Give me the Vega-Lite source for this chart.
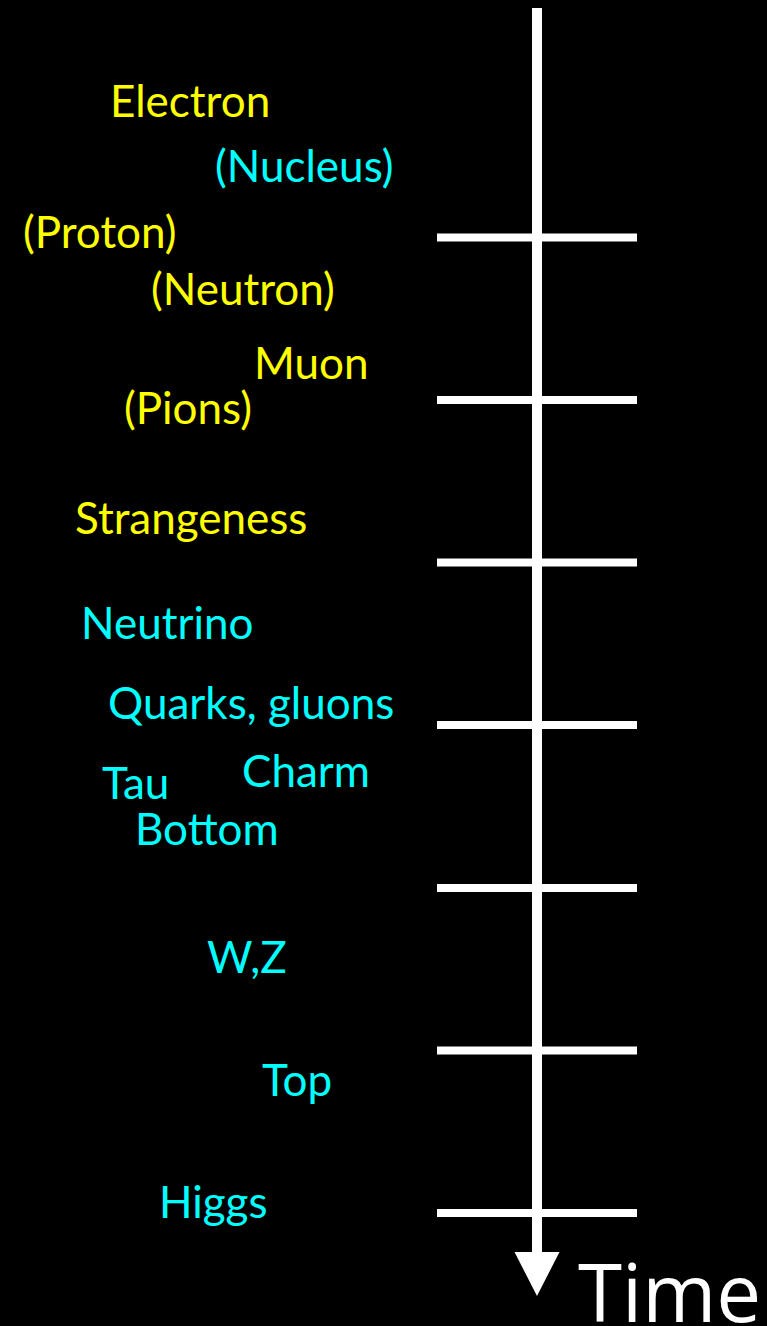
{
  "$schema": "https://vega.github.io/schema/vega-lite/v6.json",
  "width": 767,
  "height": 1326,
  "autosize": {"type": "none"},
  "padding": 0,
  "background": "#000000",
  "config": {"view": {"stroke": null}, "axis": {"disable": true}},
  "datasets": {
    "shaft": [{"x": 537, "y_top": 8, "y_bottom": 1256}],
    "ticks": [
      {"tick": 1, "y": 237.5, "x_start": 437, "x_end": 637},
      {"tick": 2, "y": 400, "x_start": 437, "x_end": 637},
      {"tick": 3, "y": 562.5, "x_start": 437, "x_end": 637},
      {"tick": 4, "y": 725, "x_start": 437, "x_end": 637},
      {"tick": 5, "y": 888, "x_start": 437, "x_end": 637},
      {"tick": 6, "y": 1050.5, "x_start": 437, "x_end": 637},
      {"tick": 7, "y": 1213, "x_start": 437, "x_end": 637}
    ],
    "head": [{"x": 537, "y": 1274}],
    "labels": [
      {"label": "Electron", "x": 110, "y": 117, "kind": "yellow"},
      {"label": "(Nucleus)", "x": 215, "y": 182, "kind": "cyan"},
      {"label": "(Proton)", "x": 23, "y": 248, "kind": "yellow"},
      {"label": "(Neutron)", "x": 151, "y": 305, "kind": "yellow"},
      {"label": "Muon", "x": 254, "y": 379, "kind": "yellow"},
      {"label": "(Pions)", "x": 124, "y": 424, "kind": "yellow"},
      {"label": "Strangeness", "x": 75, "y": 534, "kind": "yellow"},
      {"label": "Neutrino", "x": 81, "y": 639, "kind": "cyan"},
      {"label": "Quarks, gluons", "x": 108, "y": 719, "kind": "cyan"},
      {"label": "Charm", "x": 242, "y": 787, "kind": "cyan"},
      {"label": "Tau", "x": 102, "y": 799, "kind": "cyan"},
      {"label": "Bottom", "x": 135, "y": 845, "kind": "cyan"},
      {"label": "W,Z", "x": 207, "y": 973, "kind": "cyan"},
      {"label": "Top", "x": 262, "y": 1096, "kind": "cyan"},
      {"label": "Higgs", "x": 159, "y": 1218, "kind": "cyan"}
    ],
    "axis_title": [{"label": "Time", "x": 578, "y": 1322}]
  },
  "layer": [
    {
      "data": {"name": "shaft"},
      "mark": {"type": "rule", "color": "#ffffff", "strokeWidth": 10, "strokeCap": "butt"},
      "encoding": {
        "x": {"field": "x", "type": "quantitative", "scale": {"domain": [0, 767], "nice": false, "zero": false}},
        "y": {"field": "y_top", "type": "quantitative", "scale": {"domain": [0, 1326], "nice": false, "zero": false, "reverse": true}},
        "y2": {"field": "y_bottom"}
      }
    },
    {
      "data": {"name": "ticks"},
      "mark": {"type": "rule", "color": "#ffffff", "strokeWidth": 8, "strokeCap": "butt"},
      "encoding": {
        "x": {"field": "x_start", "type": "quantitative"},
        "x2": {"field": "x_end"},
        "y": {"field": "y", "type": "quantitative"}
      }
    },
    {
      "data": {"name": "head"},
      "mark": {"type": "point", "shape": "M-1,-0.978L1,-0.978L0,0.978Z", "size": 2025, "filled": true, "color": "#ffffff", "opacity": 1, "strokeWidth": 0},
      "encoding": {
        "x": {"field": "x", "type": "quantitative"},
        "y": {"field": "y", "type": "quantitative"}
      }
    },
    {
      "data": {"name": "labels"},
      "mark": {"type": "text", "font": "Lato", "fontSize": 44, "align": "left", "baseline": "alphabetic"},
      "encoding": {
        "x": {"field": "x", "type": "quantitative"},
        "y": {"field": "y", "type": "quantitative"},
        "text": {"field": "label"},
        "color": {"field": "kind", "type": "nominal", "scale": {"domain": ["yellow", "cyan"], "range": ["#ffff00", "#00ffff"]}, "legend": null}
      }
    },
    {
      "data": {"name": "axis_title"},
      "mark": {"type": "text", "font": "Open Sans", "fontSize": 80, "align": "left", "baseline": "alphabetic", "color": "#ffffff"},
      "encoding": {
        "x": {"field": "x", "type": "quantitative"},
        "y": {"field": "y", "type": "quantitative"},
        "text": {"field": "label"}
      }
    }
  ]
}
